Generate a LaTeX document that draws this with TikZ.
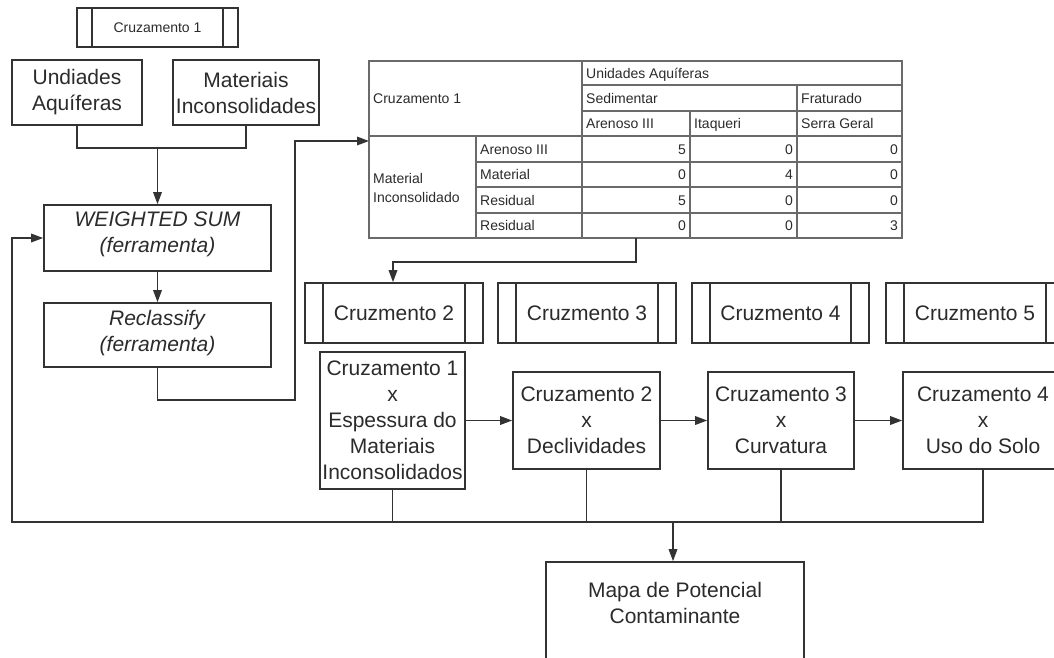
\documentclass[tikz,border=0pt]{standalone}
\usepackage{fontspec}
\setmainfont{Liberation Sans}
\usetikzlibrary{arrows.meta}
\definecolor{lc}{HTML}{333333}
\definecolor{tc}{HTML}{2B2B2B}
\definecolor{gc}{HTML}{6A6A6A}
\tikzset{
  bx/.style={draw=lc, line width=1.6pt, rectangle, inner sep=0pt, align=center,
    text=tc, font=\fontsize{21}{26}\selectfont},
  procbx/.style={bx, path picture={
    \draw[line width=1.6pt,draw=lc] ([xshift=#1]path picture bounding box.north west) -- ([xshift=#1]path picture bounding box.south west);
    \draw[line width=1.6pt,draw=lc] ([xshift=-#1]path picture bounding box.north east) -- ([xshift=-#1]path picture bounding box.south east);}},
  procbx/.default=18pt,
  conn/.style={draw=lc, line width=1.6pt},
  arr/.style={conn, -{Triangle[length=12pt,width=8.5pt]}},
  tline/.style={draw=gc, line width=1.2pt},
  cell/.style={inner sep=0pt, text=tc, font=\fontsize{14}{18}\selectfont, text height=10.5pt, text depth=0pt},
}
\begin{document}
\begin{tikzpicture}[x=1pt,y=-1pt]
\path[use as bounding box, fill=white] (0,0) rectangle (1054,657);
\clip (0,0) rectangle (1054,657);

% top label
\node[procbx=15pt, minimum width=161pt, minimum height=39pt, font=\fontsize{14}{18}\selectfont] (c1top) at (157.5,27.5) {Cruzamento 1};

% input boxes
\node[bx, minimum width=130pt, minimum height=65pt] (ua) at (77,92.5) {Undiades\\Aquíferas};
\node[bx, minimum width=146pt, minimum height=65pt] (mi) at (246,92.5) {Materiais\\Inconsolidades};

\node[bx, minimum width=227pt, minimum height=66pt, text depth=11pt] (ws) at (157.5,238) {\textit{WEIGHTED SUM}\\\textit{(ferramenta)}};
\node[bx, minimum width=227pt, minimum height=64pt, text depth=9pt] (rc) at (157.5,335) {\textit{Reclassify}\\\textit{(ferramenta)}};

% table
\node[draw=gc, line width=1.2pt, inner sep=0pt, minimum width=533pt, minimum height=177pt] (tbl) at (635.5,149.5) {};
\draw[tline] (582,85) -- (902,85);
\draw[tline] (582,111) -- (902,111);
\draw[tline] (369,136) -- (902,136);
\draw[tline] (476,162) -- (902,162);
\draw[tline] (476,187) -- (902,187);
\draw[tline] (476,213) -- (902,213);
\draw[tline] (476,136) -- (476,238);
\draw[tline] (582,61) -- (582,238);
\draw[tline] (690,111) -- (690,238);
\draw[tline] (797,85) -- (797,238);

\node[cell, anchor=west] (t1) at (373,98.5) {Cruzamento 1};
\node[cell, anchor=west] (t2) at (586,73) {Unidades Aquíferas};
\node[cell, anchor=west] (t3) at (586,98) {Sedimentar};
\node[cell, anchor=west] (t4) at (801,98) {Fraturado};
\node[cell, anchor=west] (t5) at (586,123.5) {Arenoso III};
\node[cell, anchor=west] (t6) at (694,123.5) {Itaqueri};
\node[cell, anchor=west] (t7) at (801,123.5) {Serra Geral};
\node[inner sep=0pt, text=tc, font=\fontsize{14}{18.5}\selectfont, align=left, anchor=west] (t8) at (373,188) {Material\\Inconsolidado};
\node[cell, anchor=west] (r1) at (480,149) {Arenoso III};
\node[cell, anchor=west] (r2) at (480,174.5) {Material};
\node[cell, anchor=west] (r3) at (480,200) {Residual};
\node[cell, anchor=west] (r4) at (480,225.5) {Residual};
\node[cell, anchor=east] (v11) at (686,149) {5};
\node[cell, anchor=east] (v12) at (793,149) {0};
\node[cell, anchor=east] (v13) at (898,149) {0};
\node[cell, anchor=east] (v21) at (686,174.5) {0};
\node[cell, anchor=east] (v22) at (793,174.5) {4};
\node[cell, anchor=east] (v23) at (898,174.5) {0};
\node[cell, anchor=east] (v31) at (686,200) {5};
\node[cell, anchor=east] (v32) at (793,200) {0};
\node[cell, anchor=east] (v33) at (898,200) {0};
\node[cell, anchor=east] (v41) at (686,225.5) {0};
\node[cell, anchor=east] (v42) at (793,225.5) {0};
\node[cell, anchor=east] (v43) at (898,225.5) {3};

% process boxes row
\node[procbx, minimum width=178pt, minimum height=60pt] (c2) at (394,313) {Cruzmento 2};
\node[procbx, minimum width=178pt, minimum height=60pt] (c3) at (587,313) {Cruzmento 3};
\node[procbx, minimum width=177pt, minimum height=60pt] (c4) at (780.5,313) {Cruzmento 4};
\node[procbx, minimum width=178pt, minimum height=60pt] (c5) at (975,313) {Cruzmento 5};

% crossing boxes
\node[bx, minimum width=145pt, minimum height=137pt] (x1) at (392.5,420.5) {Cruzamento 1\\x\\Espessura do\\Materiais\\Inconsolidados};
\node[bx, minimum width=147pt, minimum height=97pt] (x2) at (586.5,420.5) {Cruzamento 2\\x\\Declividades};
\node[bx, minimum width=146pt, minimum height=97pt] (x3) at (781,420.5) {Cruzamento 3\\x\\Curvatura};
\node[bx, minimum width=160pt, minimum height=97pt] (x4) at (983,420.5) {Cruzamento 4\\x\\Uso do Solo};

\node[bx, minimum width=258pt, minimum height=98pt, text depth=17pt] (mapa) at (675,611) {Mapa de Potencial\\Contaminante};

% coordinates
\coordinate (j1) at (157.5,148);
\coordinate (j2) at (295,400);
\coordinate (tin) at (369,141);
\coordinate (tout) at (636,238);
\coordinate (j3) at (393,262);
\coordinate (bl) at (12,522);
\coordinate (ma) at (673,522);

% connectors
\draw[conn] (ua.south) |- (j1) -| (mi.south);
\draw[arr] (j1) -- (ws.north);
\draw[arr] (ws.south) -- (rc.north);
\draw[arr] (rc.south) |- (j2) |- (tin);
\draw[arr] (tout) |- (j3) -- (j3 |- c2.north);
\draw[arr] (x1.east) -- (x2.west);
\draw[arr] (x2.east) -- (x3.west);
\draw[arr] (x3.east) -- (x4.west);
\draw[arr] (x4.south) |- (bl) |- (ws.west);
\draw[conn] (x1.south) -- (x1.south |- bl);
\draw[conn] (x2.south) -- (x2.south |- bl);
\draw[conn] (x3.south) -- (x3.south |- bl);
\draw[arr] (ma) -- (ma |- mapa.north);
\end{tikzpicture}
\end{document}
